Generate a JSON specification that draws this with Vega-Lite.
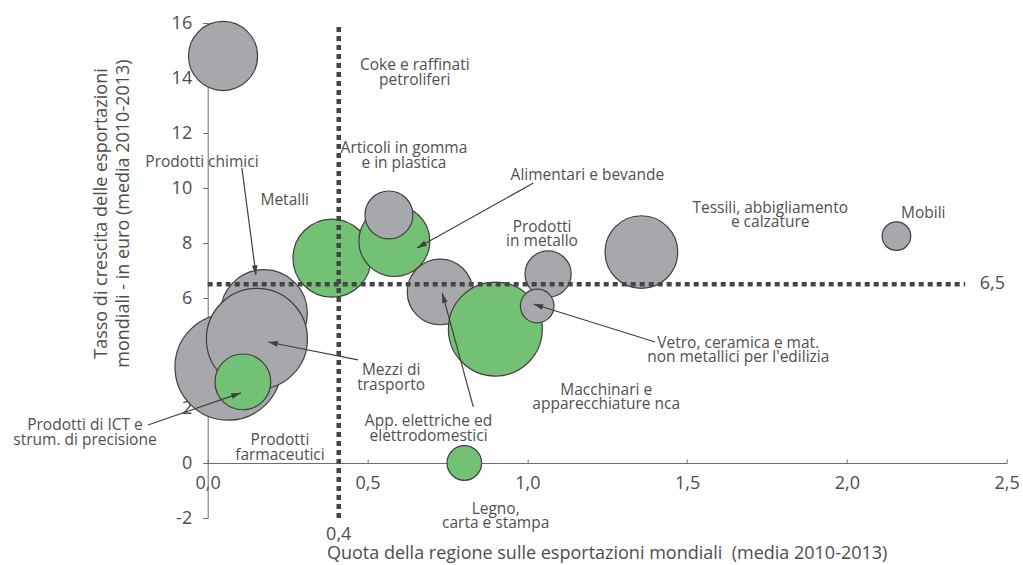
{
  "$schema": "https://vega.github.io/schema/vega-lite/v6.json",
  "width": 799,
  "height": 495,
  "autosize": {"type": "none"},
  "padding": {"left": 207.7, "top": 23, "right": 16.3, "bottom": 47},
  "config": {
    "view": {"stroke": null},
    "font": "Open Sans",
    "axis": {
      "grid": false,
      "domainColor": "#6e6e6e",
      "tickColor": "#6e6e6e",
      "labelColor": "#4d4d4d",
      "titleColor": "#4d4d4d",
      "labelFont": "Open Sans",
      "titleFont": "Open Sans",
      "labelFontSize": 18,
      "titleFontSize": 18,
      "titleFontWeight": "normal",
      "labelFlush": false,
      "labelOverlap": false
    }
  },
  "datasets": {
    "settori": [
      {"settore": "Prodotti farmaceutici", "quota": 0.064, "crescita": 3.49, "peso": 36.0, "evidenza": "no"},
      {"settore": "Prodotti chimici", "quota": 0.176, "crescita": 5.45, "peso": 24.0, "evidenza": "no"},
      {"settore": "Mezzi di trasporto", "quota": 0.154, "crescita": 4.51, "peso": 32.5, "evidenza": "no"},
      {"settore": "Prodotti di ICT e strum. di precisione", "quota": 0.11, "crescita": 2.95, "peso": 9.9, "evidenza": "sì"},
      {"settore": "Metalli", "quota": 0.389, "crescita": 7.45, "peso": 19.4, "evidenza": "sì"},
      {"settore": "Alimentari e bevande", "quota": 0.584, "crescita": 8.07, "peso": 16.0, "evidenza": "sì"},
      {"settore": "Articoli in gomma e in plastica", "quota": 0.567, "crescita": 9.02, "peso": 7.3, "evidenza": "no"},
      {"settore": "App. elettriche ed elettrodomestici", "quota": 0.727, "crescita": 6.22, "peso": 13.7, "evidenza": "no"},
      {"settore": "Macchinari e apparecchiature nca", "quota": 0.9, "crescita": 4.87, "peso": 28.1, "evidenza": "sì"},
      {"settore": "Prodotti in metallo", "quota": 1.065, "crescita": 6.87, "peso": 6.8, "evidenza": "no"},
      {"settore": "Vetro, ceramica e mat. non metallici per l'edilizia", "quota": 1.031, "crescita": 5.71, "peso": 3.6, "evidenza": "no"},
      {"settore": "Tessili, abbigliamento e calzature", "quota": 1.357, "crescita": 7.67, "peso": 16.8, "evidenza": "no"},
      {"settore": "Mobili", "quota": 2.155, "crescita": 8.25, "peso": 2.6, "evidenza": "no"},
      {"settore": "Legno, carta e stampa", "quota": 0.803, "crescita": 0.0, "peso": 3.8, "evidenza": "sì"},
      {"settore": "Coke e raffinati petroliferi", "quota": 0.048, "crescita": 14.8, "peso": 15.2, "evidenza": "no"}
    ],
    "riferimenti": [
      {"quota": 0.41, "crescita": -2, "quota2": 0.41, "crescita2": 16},
      {"quota": 0, "crescita": 6.5, "quota2": 2.37, "crescita2": 6.5}
    ],
    "frecce": [
      {"quota": 0.151, "crescita": 6.84, "quota2": 0.107, "crescita2": 10.73, "angolo": 172.5},
      {"quota": 0.655, "crescita": 7.82, "quota2": 1.019, "crescita2": 10.18, "angolo": 240.7},
      {"quota": 0.189, "crescita": 4.40, "quota2": 0.47, "crescita2": 3.75, "angolo": 281.3},
      {"quota": 0.104, "crescita": 2.55, "quota2": -0.187, "crescita2": 1.38, "angolo": 71.0},
      {"quota": 0.734, "crescita": 6.18, "quota2": 0.831, "crescita2": 2.04, "angolo": 344.8},
      {"quota": 1.019, "crescita": 5.78, "quota2": 1.4, "crescita2": 4.4, "angolo": 287.3}
    ],
    "etichette": [
      {"testo": "Coke e raffinati\npetroliferi", "quota": 0.648, "crescita": 14.47},
      {"testo": "Articoli in gomma\ne in plastica", "quota": 0.614, "crescita": 11.44},
      {"testo": "Prodotti chimici", "quota": -0.018, "crescita": 10.95},
      {"testo": "Metalli", "quota": 0.241, "crescita": 9.56},
      {"testo": "Alimentari e bevande", "quota": 1.188, "crescita": 10.47},
      {"testo": "Prodotti\nin metallo", "quota": 1.046, "crescita": 8.6},
      {"testo": "Tessili, abbigliamento\ne calzature", "quota": 1.76, "crescita": 9.29},
      {"testo": "Mobili", "quota": 2.239, "crescita": 9.1},
      {"testo": "Vetro, ceramica e mat.\nnon metallici per l'edilizia", "quota": 1.66, "crescita": 4.38},
      {"testo": "Macchinari e\napparecchiature nca", "quota": 1.247, "crescita": 2.67},
      {"testo": "Mezzi di\ntrasporto", "quota": 0.574, "crescita": 3.38},
      {"testo": "App. elettriche ed\nelettrodomestici", "quota": 0.691, "crescita": 1.51},
      {"testo": "Prodotti di ICT e\nstrum. di precisione", "quota": -0.384, "crescita": 1.38},
      {"testo": "Prodotti\nfarmaceutici", "quota": 0.226, "crescita": 0.82},
      {"testo": "Legno,\ncarta e stampa", "quota": 0.901, "crescita": -1.67}
    ],
    "valori": [
      {"testo": "6,5", "quota": 2.455, "crescita": 6.5},
      {"testo": "0,4", "quota": 0.41, "crescita": -2.6}
    ]
  },
  "encoding": {
    "x": {
      "field": "quota",
      "type": "quantitative",
      "scale": {"domain": [0, 2.5], "nice": false, "zero": false},
      "axis": {
        "offset": -55,
        "values": [0, 0.5, 1, 1.5, 2, 2.5],
        "labelExpr": "replace(format(datum.value, '.1f'), '.', ',')",
        "tickSize": -4,
        "labelPadding": 15,
        "title": "Quota della regione sulle esportazioni mondiali\u00a0 (media 2010-2013)",
        "titleX": 399,
        "titleY": 90,
        "titleBaseline": "middle",
        "titleAlign": "center"
      }
    },
    "y": {
      "field": "crescita",
      "type": "quantitative",
      "scale": {"domain": [-2, 16], "nice": false, "zero": false},
      "axis": {
        "values": [-2, 0, 2, 4, 6, 8, 10, 12, 14, 16],
        "labelExpr": "toString(datum.value)",
        "tickSize": 5,
        "labelPadding": 11,
        "title": ["Tasso di crescita delle esportazioni", "mondiali - in euro (media 2010-2013)"],
        "titleAngle": -90,
        "titleX": -106,
        "titleY": 190,
        "titleBaseline": "middle",
        "titleAlign": "center",
        "titleLineHeight": 22
      }
    }
  },
  "layer": [
    {
      "data": {"name": "settori"},
      "mark": {"type": "circle", "opacity": 1, "stroke": "#3f3f3f", "strokeWidth": 1.2},
      "encoding": {
        "size": {"field": "peso", "type": "quantitative", "scale": {"type": "linear", "domain": [0, 100], "range": [0, 31416]}, "legend": null},
        "color": {"field": "evidenza", "type": "nominal", "scale": {"domain": ["no", "sì"], "range": ["#a7a8ab", "#73c174"]}, "legend": null}
      }
    },
    {
      "data": {"name": "riferimenti"},
      "mark": {"type": "rule", "color": "#454545", "strokeWidth": 4.5, "strokeDash": [5, 4]},
      "encoding": {
        "x2": {"field": "quota2"},
        "y2": {"field": "crescita2"}
      }
    },
    {
      "data": {"name": "frecce"},
      "mark": {"type": "rule", "color": "#3f3f3f", "strokeWidth": 1.2},
      "encoding": {
        "x2": {"field": "quota2"},
        "y2": {"field": "crescita2"}
      }
    },
    {
      "data": {"name": "frecce"},
      "mark": {"type": "point", "shape": "M0,0L0.5,1.7L-0.5,1.7Z", "filled": true, "color": "#3f3f3f", "opacity": 1, "size": 130, "strokeWidth": 0},
      "encoding": {
        "angle": {"field": "angolo", "type": "quantitative", "scale": null}
      }
    },
    {
      "data": {"name": "etichette"},
      "mark": {"type": "text", "font": "Open Sans", "fontSize": 15.5, "color": "#505050", "lineBreak": "\n", "lineHeight": 14.5, "align": "center", "baseline": "middle"},
      "encoding": {
        "text": {"field": "testo", "type": "nominal"}
      }
    },
    {
      "data": {"name": "valori"},
      "mark": {"type": "text", "font": "Open Sans", "fontSize": 18, "color": "#4d4d4d", "align": "center", "baseline": "middle"},
      "encoding": {
        "text": {"field": "testo", "type": "nominal"}
      }
    }
  ]
}
